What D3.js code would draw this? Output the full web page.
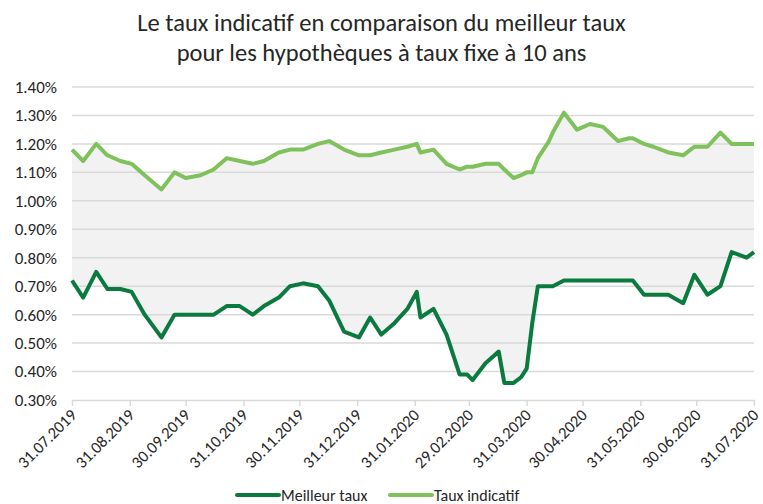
<!DOCTYPE html>
<html>
<head>
<meta charset="utf-8">
<script src="https://cdn.jsdelivr.net/npm/d3@7"></script>
<style>
  body { margin: 0; background: #fff; }
  svg text { font-family: Carlito, Lato, "Open Sans", sans-serif; fill: #262626; }
</style>
</head>
<body>
<svg id="chart"></svg>
<script>
var dates = ["2019-07-31","2019-08-06","2019-08-13","2019-08-19","2019-08-26","2019-09-01","2019-09-08",
  "2019-09-17","2019-09-24","2019-09-30","2019-10-08","2019-10-15","2019-10-22","2019-10-29","2019-11-05",
  "2019-11-11","2019-11-19","2019-11-25","2019-12-02","2019-12-10","2019-12-16","2019-12-24","2020-01-01",
  "2020-01-07","2020-01-13","2020-01-20","2020-01-27","2020-02-01","2020-02-03","2020-02-10","2020-02-17",
  "2020-02-24","2020-02-28","2020-03-02","2020-03-09","2020-03-16","2020-03-19","2020-03-24","2020-03-28",
  "2020-03-31","2020-04-03","2020-04-06","2020-04-12","2020-04-14","2020-04-20","2020-04-27","2020-05-04",
  "2020-05-11","2020-05-19","2020-05-25","2020-05-27","2020-06-02","2020-06-07","2020-06-15","2020-06-23",
  "2020-06-29","2020-07-06","2020-07-13","2020-07-19","2020-07-27","2020-07-31"];

var meilleurTaux = [0.72,0.66,0.75,0.69,0.69,0.68,0.60,
  0.52,0.60,0.60,0.60,0.60,0.63,0.63,0.60,
  0.63,0.66,0.70,0.71,0.70,0.65,0.54,0.52,
  0.59,0.53,0.57,0.62,0.68,0.59,0.62,0.53,
  0.39,0.39,0.37,0.43,0.47,0.36,0.36,0.38,
  0.41,0.57,0.70,0.70,0.70,0.72,0.72,0.72,
  0.72,0.72,0.72,0.72,0.67,0.67,0.67,0.64,
  0.74,0.67,0.70,0.82,0.80,0.82];

var tauxIndicatif = [1.18,1.14,1.20,1.16,1.14,1.13,1.09,
  1.04,1.10,1.08,1.09,1.11,1.15,1.14,1.13,
  1.14,1.17,1.18,1.18,1.20,1.21,1.18,1.16,
  1.16,1.17,1.18,1.19,1.20,1.17,1.18,1.13,
  1.11,1.12,1.12,1.13,1.13,1.11,1.08,1.09,
  1.10,1.10,1.15,1.21,1.24,1.31,1.25,1.27,
  1.26,1.21,1.22,1.22,1.20,1.19,1.17,1.16,
  1.19,1.19,1.24,1.20,1.20,1.20];

var tickDates = ["2019-07-31","2019-08-31","2019-09-30","2019-10-31","2019-11-30","2019-12-31",
  "2020-01-31","2020-02-29","2020-03-31","2020-04-30","2020-05-31","2020-06-30","2020-07-31"];
var yTicks = [0.30,0.40,0.50,0.60,0.70,0.80,0.90,1.00,1.10,1.20,1.30,1.40];

var seriesNames = ["Meilleur taux", "Taux indicatif"];
var colors = ["#0b7a3e", "#7fc15b"];

renderChart();

function renderChart(){
  var width = 763, height = 504;
  var left = 72, right = 754, top = 87, bottom = 400;
  var parse = d3.timeParse("%Y-%m-%d");
  var fmt = d3.timeFormat("%d.%m.%Y");

  var svg = d3.select("#chart").attr("width", width).attr("height", height);

  var x = d3.scaleTime()
            .domain([parse(dates[0]), parse(dates[dates.length - 1])])
            .range([left, right]);
  var y = d3.scaleLinear().domain([0.30, 1.40]).range([bottom, top]);

  var rows = dates.map((d, i) => ({date: parse(d), low: meilleurTaux[i], high: tauxIndicatif[i]}));

  // title
  var title = svg.append("text")
                 .attr("x", width / 2)
                 .attr("y", 31)
                 .attr("text-anchor", "middle")
                 .style("font-size", "24.5px");
  title.append("tspan").attr("x", width / 2).text("Le taux indicatif en comparaison du meilleur taux");
  title.append("tspan").attr("x", width / 2).attr("dy", 30).text("pour les hypothèques à taux fixe à 10 ans");

  // band between the two series
  svg.append("path")
     .datum(rows)
     .attr("fill", "#f2f2f2")
     .attr("d", d3.area().x(d => x(d.date)).y0(d => y(d.low)).y1(d => y(d.high)));

  // grid lines
  svg.append("g")
     .selectAll("line")
     .data(yTicks.slice(1))
     .enter()
     .append("line")
     .attr("x1", left).attr("x2", right)
     .attr("y1", d => y(d)).attr("y2", d => y(d))
     .attr("stroke", "#d9d9d9")
     .attr("stroke-width", 1.5);

  // y axis labels
  var yAxis = svg.append("g")
                 .attr("transform", "translate(" + left + ",0)")
                 .call(d3.axisLeft(y).tickValues(yTicks).tickSize(0).tickPadding(15)
                   .tickFormat(d => d.toFixed(2) + "%"));
  yAxis.select(".domain").remove();
  yAxis.selectAll("text").style("font-size", "17px").attr("fill", "#262626");

  // x axis
  var xAxis = svg.append("g")
                 .attr("transform", "translate(0," + bottom + ")")
                 .call(d3.axisBottom(x).tickValues(tickDates.map(parse)).tickSize(6).tickSizeOuter(0)
                   .tickFormat(fmt));
  xAxis.select(".domain").attr("stroke", "#d9d9d9").attr("stroke-width", 1.5);
  xAxis.selectAll(".tick line").attr("stroke", "#d9d9d9").attr("stroke-width", 1.5);
  xAxis.selectAll("text")
       .style("font-size", "16.5px")
       .attr("fill", "#262626")
       .attr("text-anchor", "end")
       .attr("x", 0)
       .attr("y", 0)
       .attr("dy", "0.35em")
       .attr("transform", "translate(1,12) rotate(-45)");

  // lines
  var lineLow = d3.line().x(d => x(d.date)).y(d => y(d.low));
  var lineHigh = d3.line().x(d => x(d.date)).y(d => y(d.high));
  svg.append("path").datum(rows).attr("fill", "none").attr("stroke", colors[1])
     .attr("stroke-width", 4).attr("stroke-linejoin", "round").attr("d", lineHigh);
  svg.append("path").datum(rows).attr("fill", "none").attr("stroke", colors[0])
     .attr("stroke-width", 4).attr("stroke-linejoin", "round").attr("d", lineLow);

  // legend
  var legendX = [237, 390];
  var legend = svg.selectAll(".legend")
                  .data(seriesNames)
                  .enter()
                  .append("g")
                  .attr("transform", (d, i) => "translate(" + legendX[i] + ",495)");
  legend.append("line")
        .attr("x1", 0).attr("x2", 42)
        .attr("stroke", (d, i) => colors[i])
        .attr("stroke-width", 4)
        .attr("stroke-linecap", "round");
  legend.append("text")
        .attr("x", 44)
        .attr("y", 6)
        .style("font-size", "16px")
        .attr("fill", "#404040")
        .text(d => d);
}
</script>
</body>
</html>
